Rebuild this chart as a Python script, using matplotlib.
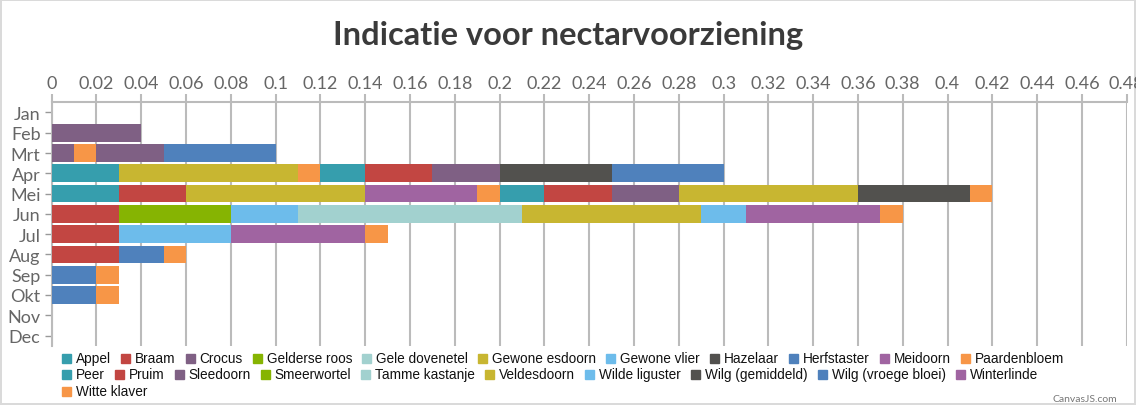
import numpy as np
import matplotlib
matplotlib.use("Agg")
import matplotlib.pyplot as plt
from matplotlib.patches import Rectangle

# months (top to bottom) and series, in stacking order
months = ["Jan", "Feb", "Mrt", "Apr", "Mei", "Jun", "Jul", "Aug", "Sep", "Okt", "Nov", "Dec"]

appel          = [0, 0, 0, 0.03, 0.03, 0, 0, 0, 0, 0, 0, 0]
braam          = [0, 0, 0, 0, 0.03, 0.03, 0.03, 0.03, 0, 0, 0, 0]
crocus         = [0, 0.04, 0.01, 0, 0, 0, 0, 0, 0, 0, 0, 0]
gelderse_roos  = [0, 0, 0, 0, 0, 0.05, 0, 0, 0, 0, 0, 0]
gele_dovenetel = [0, 0, 0, 0, 0, 0, 0, 0, 0, 0, 0, 0]
gewone_esdoorn = [0, 0, 0, 0.08, 0.08, 0, 0, 0, 0, 0, 0, 0]
gewone_vlier   = [0, 0, 0, 0, 0, 0.03, 0, 0, 0, 0, 0, 0]
hazelaar       = [0, 0, 0, 0, 0, 0, 0, 0, 0, 0, 0, 0]
herfstaster    = [0, 0, 0, 0, 0, 0, 0, 0.02, 0.02, 0.02, 0, 0]
meidoorn       = [0, 0, 0, 0, 0.05, 0, 0, 0, 0, 0, 0, 0]
paardenbloem   = [0, 0, 0.01, 0.01, 0.01, 0, 0, 0, 0, 0, 0, 0]
peer           = [0, 0, 0, 0.02, 0.02, 0, 0, 0, 0, 0, 0, 0]
pruim          = [0, 0, 0, 0.03, 0.03, 0, 0, 0, 0, 0, 0, 0]
sleedoorn      = [0, 0, 0.03, 0.03, 0.03, 0, 0, 0, 0, 0, 0, 0]
smeerwortel    = [0, 0, 0, 0, 0, 0, 0, 0, 0, 0, 0, 0]
tamme_kastanje = [0, 0, 0, 0, 0, 0.10, 0, 0, 0, 0, 0, 0]
veldesdoorn    = [0, 0, 0, 0, 0.08, 0.08, 0, 0, 0, 0, 0, 0]
wilde_liguster = [0, 0, 0, 0, 0, 0.02, 0.05, 0, 0, 0, 0, 0]
wilg_gem       = [0, 0, 0, 0.05, 0.05, 0, 0, 0, 0, 0, 0, 0]
wilg_vroeg     = [0, 0, 0.05, 0.05, 0, 0, 0, 0, 0, 0, 0, 0]
winterlinde    = [0, 0, 0, 0, 0, 0.06, 0.06, 0, 0, 0, 0, 0]
witte_klaver   = [0, 0, 0, 0, 0.01, 0.01, 0.01, 0.01, 0.01, 0.01, 0, 0]

names = ["Appel", "Braam", "Crocus", "Gelderse roos", "Gele dovenetel", "Gewone esdoorn",
         "Gewone vlier", "Hazelaar", "Herfstaster", "Meidoorn", "Paardenbloem", "Peer",
         "Pruim", "Sleedoorn", "Smeerwortel", "Tamme kastanje", "Veldesdoorn",
         "Wilde liguster", "Wilg (gemiddeld)", "Wilg (vroege bloei)", "Winterlinde",
         "Witte klaver"]
series = [appel, braam, crocus, gelderse_roos, gele_dovenetel, gewone_esdoorn,
          gewone_vlier, hazelaar, herfstaster, meidoorn, paardenbloem, peer, pruim,
          sleedoorn, smeerwortel, tamme_kastanje, veldesdoorn, wilde_liguster,
          wilg_gem, wilg_vroeg, winterlinde, witte_klaver]

palette = ["#369EAD", "#C24642", "#7F6084", "#86B402", "#A2D1CF", "#C8B631",
           "#6DBCEB", "#52514E", "#4F81BC", "#A064A1", "#F79647"]

W, H = 1136, 406
fig = plt.figure(figsize=(W / 100, H / 100), dpi=100)
fig.patch.set_edgecolor("#DADADA")
fig.patch.set_linewidth(1.5)

x0, x1, ytop, ybot = 51.7, 1126.7, 103.3, 346.7
ax = fig.add_axes([x0 / W, 1 - ybot / H, (x1 - x0) / W, (ybot - ytop) / H])

######################################################################
# stacked bars
ypos = np.arange(len(months))
left = np.zeros(len(months))
for i, (vals, name) in enumerate(zip(series, names)):
    vals = np.array(vals, dtype=float)
    ax.barh(ypos, vals, left=left, height=0.87, color=palette[i % len(palette)],
            zorder=3, linewidth=0)
    left += vals

ax.set_ylim(len(months) - 0.5, -0.5)
ax.set_xlim(0, 0.48)
ax.set_yticks(ypos)
ax.set_yticklabels(months)

xt = np.round(np.arange(0, 0.481, 0.02), 2)
ax.set_xticks(xt)
ax.set_xticklabels([f"{v:g}" for v in xt])
ax.xaxis.tick_top()

ax.grid(axis="x", color="#BBBBBB", linewidth=1.5, zorder=0)
ax.grid(axis="y", visible=False)
for s in ["right", "bottom"]:
    ax.spines[s].set_visible(False)
ax.spines["top"].set_color("#BBBBBB")
ax.spines["top"].set_linewidth(1.5)
ax.spines["left"].set_color("#BBBBBB")
ax.spines["left"].set_linewidth(1.5)

ax.tick_params(axis="x", length=6, width=1.5, color="#BBBBBB", labelcolor="#666666",
               labelsize=13, pad=2)
ax.tick_params(axis="y", length=5, width=1, color="#999999", labelcolor="#666666",
               labelsize=13, pad=3)
for lab in ax.get_xticklabels() + ax.get_yticklabels():
    lab.set_family("Lato")

######################################################################
# title + credit
fig.text(0.5, 1 - 36 / H, "Indicatie voor nectarvoorziening", ha="center", va="center",
         fontsize=23.5, fontweight="bold", family="Lato", color="#3A3A3A")
fig.text(1117 / W, 1 - 400 / H, "CanvasJS.com", ha="right", va="center",
         fontsize=7.5, family="Lato", color="#777777")

######################################################################
# legend, flowing left to right like CanvasJS
renderer = fig.canvas.get_renderer()
lx, ly = 62.0, 359.0
row_h, sq = 16.5, 9.0
for i, name in enumerate(names):
    t = fig.text(0, 0, name, fontsize=9.8, family="Liberation Sans", color="#111111",
                 ha="left", va="center")
    tw = t.get_window_extent(renderer).width
    if lx + 14 + tw > 1085:
        lx = 62.0
        ly += row_h
    fig.patches.append(Rectangle((lx / W, 1 - (ly + sq / 2) / H), sq / W, sq / H,
                                 transform=fig.transFigure, figure=fig,
                                 color=palette[i % len(palette)]))
    t.set_position(((lx + 14) / W, 1 - ly / H))
    lx += 14 + tw + 10

fig.savefig("out.png", dpi=100, facecolor="white", edgecolor=fig.get_edgecolor())
